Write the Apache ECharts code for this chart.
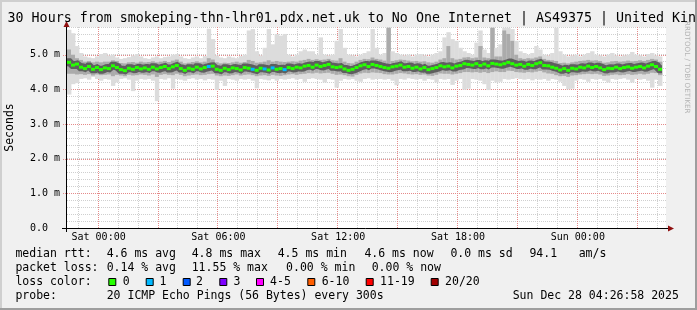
<!DOCTYPE html>
<html><head><meta charset="utf-8">
<script src="https://cdn.jsdelivr.net/npm/echarts@6/dist/echarts.min.js"></script>
<style>html,body{margin:0;padding:0;background:#f0f0f0}#c{width:697px;height:310px}</style>
</head><body><div id="c"></div>
<script>
// ---- time axis (hours relative to Sat 00:00) ----
const startHour = -95 / 60;       // Fri 22:25
const stepHours = 0.2;            // 12 min per step
const endHour = startHour + 30;   // 30 hours window
const xTickHours = [0, 6, 12, 18, 24];
const xTickLabels = ['Sat 00:00', 'Sat 06:00', 'Sat 12:00', 'Sat 18:00', 'Sun 00:00'];
const yMax = 5.8;
const yTickValues = [0, 1, 2, 3, 4, 5];
const yTickLabels = ['0.0  ', '1.0 m', '2.0 m', '3.0 m', '4.0 m', '5.0 m'];

// ---- values in ms ----
const median = [4.78,4.70,4.73,4.64,4.60,4.66,4.58,4.63,4.57,4.62,
 4.60,4.68,4.63,4.57,4.54,4.61,4.58,4.63,4.59,4.62,
 4.58,4.64,4.59,4.63,4.66,4.60,4.65,4.69,4.60,4.55,
 4.61,4.58,4.64,4.59,4.63,4.66,4.67,4.58,4.55,4.61,
 4.57,4.62,4.60,4.56,4.63,4.61,4.58,4.55,4.61,4.59,
 4.56,4.62,4.58,4.60,4.57,4.63,4.60,4.64,4.62,4.67,
 4.69,4.64,4.70,4.66,4.69,4.72,4.65,4.63,4.65,4.59,
 4.55,4.58,4.63,4.68,4.71,4.66,4.72,4.69,4.66,4.63,
 4.61,4.65,4.67,4.70,4.64,4.66,4.61,4.64,4.59,4.63,
 4.57,4.60,4.63,4.68,4.65,4.67,4.62,4.67,4.69,4.74,
 4.72,4.70,4.74,4.69,4.73,4.68,4.75,4.73,4.71,4.74,
 4.78,4.74,4.70,4.72,4.67,4.72,4.69,4.74,4.77,4.69,
 4.68,4.64,4.61,4.56,4.60,4.55,4.61,4.59,4.64,4.62,
 4.67,4.63,4.66,4.62,4.57,4.61,4.60,4.64,4.60,4.63,
 4.65,4.61,4.64,4.66,4.62,4.67,4.71,4.66,4.58,null];
const hi = [5.72,5.62,5.25,5.05,4.95,4.92,4.90,4.95,5.02,5.05,
 4.98,5.00,4.92,4.88,4.90,4.93,4.98,5.02,4.95,4.90,
 4.88,4.92,4.95,4.90,4.93,4.95,5.00,5.02,4.95,4.90,
 4.88,4.92,4.95,4.90,4.96,5.75,5.45,4.98,4.92,4.90,
 4.95,4.92,4.90,4.96,5.00,5.70,5.74,5.10,4.98,5.20,
 5.74,5.30,5.60,5.55,5.60,5.00,4.95,5.00,5.10,5.15,
 5.10,5.10,5.00,5.50,5.00,4.98,5.00,5.40,5.74,5.20,
 5.00,4.98,4.95,5.00,5.05,5.10,5.74,5.20,5.00,5.05,
 5.78,5.10,5.05,5.00,4.98,5.00,4.95,5.00,5.02,4.98,
 4.95,5.00,5.05,5.10,5.50,5.65,5.45,5.40,5.20,5.10,
 5.05,5.00,5.35,5.70,5.15,5.05,5.78,5.20,5.30,5.78,
 5.78,5.74,5.40,5.10,5.05,5.00,5.05,5.25,5.15,5.00,
 4.98,5.05,5.78,5.10,5.00,4.95,4.98,5.00,4.95,5.00,
 5.05,5.10,5.00,4.98,4.95,5.00,5.05,4.98,4.95,4.98,
 5.00,5.08,5.00,4.98,4.95,5.02,5.05,4.98,4.95,null];
const lo = [3.85,4.15,4.18,4.30,4.32,4.28,4.36,4.30,4.25,4.30,
 4.28,4.10,4.20,4.30,4.32,4.28,3.95,4.25,4.30,4.28,
 4.30,4.25,3.66,4.30,4.28,4.32,4.02,4.30,4.28,4.25,
 4.30,4.32,4.28,4.30,4.26,4.30,4.28,3.98,4.25,4.10,
 4.30,4.28,4.25,4.30,4.28,4.30,4.25,4.03,4.30,4.28,
 4.26,4.30,4.25,4.30,4.28,4.30,4.32,4.28,4.30,4.22,
 4.30,4.32,4.30,4.28,4.20,4.30,4.28,4.05,4.25,4.30,
 4.28,4.30,4.25,4.22,4.30,4.32,4.28,4.30,4.30,4.28,
 4.30,4.25,4.12,4.30,4.28,4.32,4.30,4.28,4.30,4.25,
 4.30,4.28,4.20,4.30,4.28,4.30,4.13,4.25,4.30,3.99,
 4.02,4.30,4.28,4.25,4.15,3.98,4.25,4.20,4.22,4.30,
 4.28,4.30,4.32,4.30,4.28,4.30,4.26,4.30,4.28,4.30,
 4.25,4.30,4.28,4.22,4.10,4.00,4.02,4.25,4.30,4.28,
 4.22,4.30,4.28,4.30,4.25,4.20,4.30,4.28,4.30,4.32,
 4.28,4.20,4.30,4.28,4.30,4.25,4.05,4.28,4.10,null];
const q1 = [4.45,4.45,4.43,4.44,4.42,4.44,4.40,4.43,4.41,4.42,
 4.43,4.38,4.42,4.40,4.38,4.42,4.40,4.41,4.43,4.42,
 4.40,4.43,4.36,4.42,4.44,4.42,4.41,4.45,4.42,4.38,
 4.40,4.42,4.43,4.41,4.42,4.44,4.45,4.40,4.38,4.40,
 4.39,4.41,4.43,4.40,4.42,4.43,4.41,4.38,4.40,4.41,
 4.39,4.42,4.40,4.39,4.41,4.43,4.44,4.42,4.44,4.45,
 4.47,4.46,4.48,4.46,4.47,4.48,4.45,4.42,4.43,4.41,
 4.38,4.37,4.42,4.46,4.48,4.47,4.49,4.48,4.47,4.44,
 4.43,4.43,4.45,4.47,4.46,4.44,4.43,4.44,4.42,4.43,
 4.40,4.39,4.42,4.46,4.45,4.45,4.43,4.45,4.47,4.50,
 4.50,4.49,4.50,4.48,4.50,4.47,4.50,4.52,4.50,4.50,
 4.54,4.53,4.50,4.49,4.48,4.50,4.49,4.51,4.53,4.49,
 4.46,4.45,4.41,4.38,4.39,4.36,4.40,4.41,4.43,4.44,
 4.45,4.44,4.45,4.43,4.39,4.40,4.42,4.43,4.41,4.42,
 4.44,4.42,4.43,4.45,4.43,4.45,4.48,4.47,4.41,null];
const q3 = [5.15,5.00,4.90,4.85,4.80,4.82,4.78,4.80,4.78,4.80,
 4.80,4.84,4.82,4.76,4.75,4.78,4.79,4.77,4.80,4.78,
 4.79,4.81,4.78,4.80,4.82,4.79,4.83,4.86,4.80,4.75,
 4.77,4.79,4.81,4.78,4.80,4.90,4.86,4.78,4.75,4.77,
 4.76,4.78,4.80,4.77,4.79,4.85,4.82,4.77,4.78,4.80,
 4.84,4.80,4.82,4.80,4.79,4.80,4.81,4.80,4.83,4.85,
 4.88,4.85,4.87,4.85,4.86,4.88,4.84,4.83,4.90,4.80,
 4.76,4.75,4.80,4.85,4.88,4.87,4.92,4.88,4.86,4.83,
 5.78,4.82,4.84,4.86,4.85,4.83,4.81,4.82,4.80,4.81,
 4.78,4.77,4.80,4.86,4.90,5.25,4.90,4.86,4.88,4.92,
 4.93,4.90,4.92,5.25,4.92,4.90,5.78,4.95,4.95,5.70,
 5.60,5.40,5.00,4.90,4.88,4.90,4.89,4.92,4.95,4.88,
 4.85,4.84,4.82,4.76,4.77,4.75,4.78,4.80,4.82,4.83,
 4.85,4.83,4.84,4.82,4.77,4.78,4.81,4.82,4.80,4.81,
 4.83,4.81,4.82,4.84,4.82,4.85,4.88,4.86,4.80,null];
const loss = [0,0,0,0,0,0,0,0,0,0, 0,0,0,0,0,0,0,0,0,0, 0,0,0,0,0,0,0,0,0,0,
 0,0,0,0,0,1,0,0,0,0, 0,0,0,0,0,0,1,0,0,1, 0,1,0,0,1,0,0,0,0,0,
 0,0,0,0,0,0,0,0,0,0, 0,0,0,0,0,0,0,0,0,0, 0,0,0,0,0,0,0,0,0,0,
 0,0,0,0,0,0,0,0,0,0, 0,0,0,0,0,0,0,0,0,0, 0,0,0,0,0,0,0,0,0,0,
 0,0,0,0,0,0,0,0,0,0, 0,0,0,0,0,0,0,0,0,0, 0,0,0,0,0,0,0,0,0,0];

// ---- legend text ----
const lossLegend = ['0', '1', '2', '3', '4-5', '6-10', '11-19', '20/20'];
const lossColors = ['#26ff00', '#00b8ff', '#0059ff', '#7e00ff', '#ff00ff', '#ff5e00', '#ff0000', '#a10000'];
const rttStats = ['4.6 ms avg', '4.8 ms max', '4.5 ms min', '4.6 ms now', '0.0 ms sd', '94.1', 'am/s'];
const lossStats = ['0.14 % avg', '11.55 % max', '0.00 % min', '0.00 % now'];
const probeText = '20 ICMP Echo Pings (56 Bytes) every 300s';
const stampText = 'Sun Dec 28 04:26:58 2025';
const titleText = '30 Hours from smokeping-thn-lhr01.pdx.net.uk to No One Internet | AS49375 | United Kin';

function lossIndex(n) {
  if (n <= 3) return n;
  if (n <= 5) return 4;
  if (n <= 10) return 5;
  if (n <= 19) return 6;
  return 7;
}

const smokeData = [];
const medLine = [];
const medSeg = [];
let lastIdx = -1;
median.forEach((m, i) => {
  const t = startHour + i * stepHours;
  if (m == null) return;
  smokeData.push([t, lo[i], hi[i], q1[i], q3[i]]);
  medLine.push([t, m]);
  medSeg.push([t, m, loss[i]]);
  lastIdx = i;
});
medLine.push([startHour + (lastIdx + 1) * stepHours, median[lastIdx]]);

const gridHours = [];
for (let h = Math.ceil(startHour); h <= Math.floor(endHour); h++) gridHours.push([h, 0]);
const majorY = yTickValues.filter(v => v > 0).map(v => [startHour, v]);

const MONO = '"DejaVu Sans Mono", monospace';
const MINOR = '#cfcfcf';
const MAJOR = '#e58a8a';
const chart = echarts.init(document.getElementById('c'), null, { renderer: 'canvas' });

const graphics = [];
// frame
graphics.push({ type: 'rect', shape: { x: 0, y: 0, width: 2, height: 310 }, style: { fill: '#cfcfcf' }, z: 100 });
graphics.push({ type: 'rect', shape: { x: 0, y: 0, width: 697, height: 2 }, style: { fill: '#cfcfcf' }, z: 100 });
graphics.push({ type: 'rect', shape: { x: 695, y: 0, width: 2, height: 310 }, style: { fill: '#9e9e9e' }, z: 100 });
graphics.push({ type: 'rect', shape: { x: 0, y: 308, width: 697, height: 2 }, style: { fill: '#9e9e9e' }, z: 100 });
// title
graphics.push({ type: 'text', x: 7.6, y: 19, z: 50, style: { text: titleText, font: '13.3px ' + MONO, fill: '#000', verticalAlign: 'middle' } });
// watermark
graphics.push({ type: 'text', x: 687, y: 21, rotation: -Math.PI / 2, z: 60, style: { text: 'RRDTOOL / TOBI OETIKER', font: '7.2px "DejaVu Sans"', fill: '#b4b4b4', verticalAlign: 'middle', align: 'left' } });
// y title
graphics.push({ type: 'text', x: 10, y: 127.5, rotation: Math.PI / 2, style: { text: 'Seconds', font: '11.5px ' + MONO, fill: '#000', align: 'center', verticalAlign: 'middle' } });
// axes lines and arrows
graphics.push({ type: 'line', z: 40, shape: { x1: 62, y1: 228.5, x2: 669, y2: 228.5 }, style: { stroke: '#000', lineWidth: 1 } });
graphics.push({ type: 'line', z: 40, shape: { x1: 66.5, y1: 232, x2: 66.5, y2: 25 }, style: { stroke: '#000', lineWidth: 1 } });
graphics.push({ type: 'polygon', z: 41, shape: { points: [[668, 225.5], [668, 231.5], [674, 228.5]] }, style: { fill: '#8f1010' } });
graphics.push({ type: 'polygon', z: 41, shape: { points: [[63.5, 27], [69.5, 27], [66.5, 21]] }, style: { fill: '#8f1010' } });

function txt(x, y, s) {
  graphics.push({ type: 'text', x: x, y: y, style: { text: s, font: '11.5px ' + MONO, fill: '#000', verticalAlign: 'middle' } });
}
// row 1
txt(15.4, 254.5, 'median rtt:');
[106.7, 191.7, 277.7, 364.4, 450.4, 529.4, 578.7].forEach((x, i) => txt(x, 254.5, rttStats[i]));
// row 2
txt(15.4, 268.3, 'packet loss:');
[106.7, 191.7, 286.1, 371.7].forEach((x, i) => txt(x, 268.3, lossStats[i]));
// row 3
txt(15.4, 282.2, 'loss color:');
const boxX = [108.3, 145.7, 182.7, 219.3, 256, 307.3, 365.7, 430.7];
const boxLabelX = [122.7, 159.4, 196.1, 233.4, 270.1, 321.7, 380.1, 445.1];
lossLegend.forEach((s, i) => {
  graphics.push({ type: 'rect', shape: { x: boxX[i] + 0.5, y: 278.5, width: 7, height: 7 }, style: { fill: lossColors[i], stroke: '#000', lineWidth: 1 } });
  txt(boxLabelX[i], 282.2, s);
});
// row 4
txt(15.4, 296.2, 'probe:');
txt(106.7, 296.2, probeText);
txt(512.7, 296.2, stampText);

const option = {
  animation: false,
  backgroundColor: '#f0f0f0',
  grid: { left: 67, top: 27, right: 31, bottom: 82, show: true, backgroundColor: '#ffffff', borderWidth: 0 },
  xAxis: {
    type: 'value', min: startHour, max: endHour,
    axisLine: { show: false }, axisTick: { show: false }, splitLine: { show: false },
    axisLabel: {
      customValues: xTickHours, margin: 4, color: '#000', fontFamily: MONO, fontSize: 10,
      formatter: v => { const k = xTickHours.indexOf(Math.round(v)); return k >= 0 ? xTickLabels[k] : ''; }
    }
  },
  yAxis: {
    type: 'value', min: 0, max: yMax, interval: 0.2,
    axisLine: { show: false }, axisTick: { show: false },
    splitLine: { show: true, lineStyle: { color: MINOR, width: 1, type: [1, 1] } },
    axisLabel: {
      margin: 7, color: '#000', fontFamily: MONO, fontSize: 10, align: 'right',
      formatter: v => { const r = Math.round(v); if (Math.abs(v - r) > 1e-6) return ''; const k = yTickValues.indexOf(r); return k >= 0 ? yTickLabels[k] : ''; }
    }
  },
  graphic: graphics,
  series: [
    { // vertical grid lines
      type: 'custom', z: 1, silent: true, data: gridHours, encode: { x: 0, y: 1 },
      renderItem: (params, api) => {
        const h = api.value(0);
        const a = api.coord([h, 0]), b = api.coord([h, yMax]);
        const x = Math.round(a[0]) - 0.5;
        const major = Math.round(h) % 3 === 0;
        return { type: 'line', shape: { x1: x, y1: a[1], x2: x, y2: b[1] }, style: { stroke: major ? MAJOR : MINOR, lineWidth: 1, lineDash: [1, 1] } };
      }
    },
    { // major horizontal grid lines
      type: 'custom', z: 1, silent: true, data: majorY, encode: { x: 0, y: 1 },
      renderItem: (params, api) => {
        const v = api.value(1);
        const a = api.coord([startHour, v]), b = api.coord([endHour, v]);
        const y = Math.round(a[1]) + 0.5;
        return { type: 'line', shape: { x1: a[0] - 4, y1: y, x2: b[0], y2: y }, style: { stroke: MAJOR, lineWidth: 1, lineDash: [1, 1] } };
      }
    },
    { // smoke
      type: 'custom', z: 2, clip: true, silent: true, data: smokeData, encode: { x: 0, y: [1, 2] },
      renderItem: (params, api) => {
        const t = api.value(0);
        const a = api.coord([t, api.value(2)]), b = api.coord([t + stepHours, api.value(1)]);
        const c = api.coord([t, api.value(4)]), d = api.coord([t + stepHours, api.value(3)]);
        return { type: 'group', children: [
          { type: 'rect', shape: { x: a[0], y: a[1], width: b[0] - a[0] + 0.4, height: b[1] - a[1] }, style: { fill: '#dcdcdc' } },
          { type: 'rect', shape: { x: c[0], y: c[1], width: d[0] - c[0] + 0.4, height: d[1] - c[1] }, style: { fill: '#ababab' } }
        ] };
      }
    },
    { // dark core of smoke around the median
      type: 'line', z: 3, step: 'end', data: medLine, showSymbol: false, silent: true,
      lineStyle: { color: '#5e5e5e', width: 8 }
    },
    { // median, coloured by loss
      type: 'custom', z: 5, data: medSeg, encode: { x: 0, y: 1 }, silent: true,
      renderItem: (params, api) => {
        const t = api.value(0), m = api.value(1);
        const a = api.coord([t, m]), b = api.coord([t + stepHours, m]);
        return { type: 'rect', shape: { x: a[0], y: a[1] - 1.5, width: b[0] - a[0], height: 3 }, style: { fill: lossColors[lossIndex(api.value(2))] } };
      }
    }
  ]
};
chart.setOption(option);
</script>
</body></html>
